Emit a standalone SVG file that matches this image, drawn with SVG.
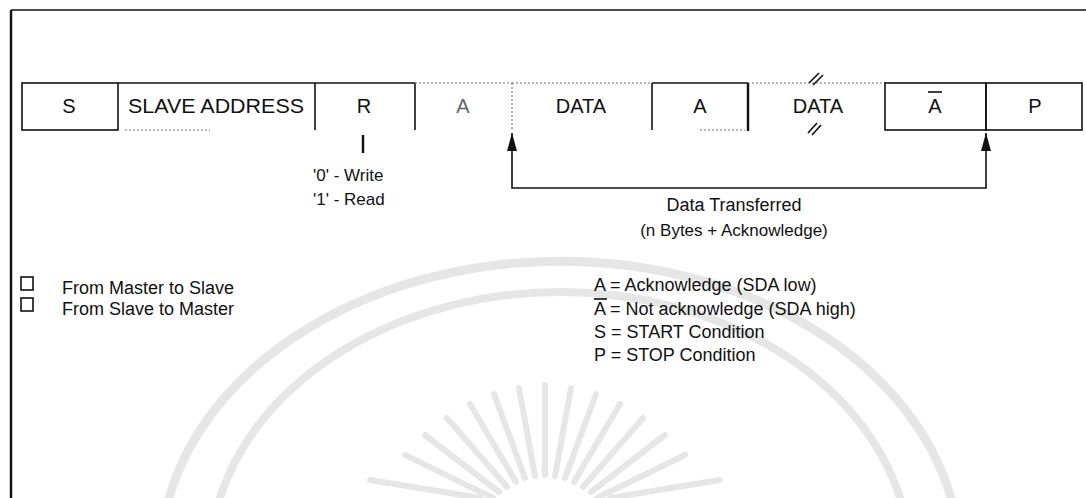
<svg xmlns="http://www.w3.org/2000/svg" width="1086" height="498" viewBox="0 0 1086 498">
  <style>
    text { font-family: "Liberation Sans", Arial, sans-serif; fill: #111; }
    .box { font-size: 20px; text-anchor: middle; }
    .lbl { font-size: 17px; }
    .leg { font-size: 18px; }
    .edge { stroke: #111; stroke-width: 1.6; fill: none; }
    .thick { stroke: #111; stroke-width: 2.4; fill: none; }
    .faint { stroke: #777; stroke-width: 1.2; stroke-dasharray: 2 2; fill: none; }
    .wm { stroke: #e6e6e6; fill: none; stroke-linecap: round; }
  </style>
  <defs>
    <marker id="arrowUp" viewBox="0 0 18 10" refX="18" refY="5" markerWidth="18" markerHeight="10" markerUnits="userSpaceOnUse" orient="auto">
      <path d="M0,0 L18,5 L0,10 Z" fill="#111"/>
    </marker>
  </defs>

  <rect width="1086" height="498" fill="#fff"/>

  <!-- faint background emblem -->
  <g id="emblem">
    <path class="wm" stroke-width="9" d="M169,498 A400,300 0 0 1 951,498"/>
    <path class="wm" stroke-width="8" d="M220,498 A350,270 0 0 1 900,498"/>
    <g stroke-width="6" class="wm">
      <line x1="545" y1="475" x2="545" y2="385"/>
      <line x1="535" y1="476" x2="519" y2="388"/>
      <line x1="555" y1="476" x2="571" y2="388"/>
      <line x1="525" y1="478" x2="494" y2="394"/>
      <line x1="565" y1="478" x2="596" y2="394"/>
      <line x1="516" y1="482" x2="470" y2="404"/>
      <line x1="574" y1="482" x2="620" y2="404"/>
      <line x1="507" y1="487" x2="447" y2="418"/>
      <line x1="583" y1="487" x2="643" y2="418"/>
      <line x1="499" y1="492" x2="425" y2="435"/>
      <line x1="591" y1="492" x2="665" y2="435"/>
      <line x1="493" y1="498" x2="405" y2="455"/>
      <line x1="597" y1="498" x2="685" y2="455"/>
      <line x1="480" y1="498" x2="370" y2="480"/>
      <line x1="610" y1="498" x2="720" y2="480"/>
    </g>
  </g>

  <!-- outer frame -->
  <g id="frame">
    <line class="thick" x1="11" y1="10" x2="11" y2="498"/>
    <line class="edge" x1="11" y1="10" x2="1086" y2="10"/>
  </g>

  <!-- transfer frame fields -->
  <g id="field-start">
    <rect class="edge" x="22" y="83" width="96" height="47"/>
    <text class="box" x="69" y="113">S</text>
  </g>
  <g id="field-address">
    <line class="edge" x1="118" y1="83" x2="315" y2="83"/>
    <line class="edge" x1="315" y1="83" x2="315" y2="130"/>
    <line class="faint" x1="125" y1="130" x2="210" y2="130"/>
    <text class="box" x="216" y="113" textLength="176" lengthAdjust="spacingAndGlyphs">SLAVE ADDRESS</text>
  </g>
  <g id="field-rw">
    <line class="edge" x1="315" y1="83" x2="415" y2="83"/>
    <line class="edge" x1="415" y1="83" x2="415" y2="130"/>
    <text class="box" x="364" y="113">R</text>
  </g>
  <g id="field-ack1">
    <line class="faint" x1="415" y1="83" x2="512" y2="83"/>
    <text class="box" x="463" y="113" style="fill:#666">A</text>
  </g>
  <g id="field-data1">
    <line class="faint" x1="512" y1="83" x2="652" y2="83"/>
    <line class="faint" x1="512" y1="83" x2="512" y2="130"/>
    <text class="box" x="581" y="113">DATA</text>
  </g>
  <g id="field-ack2">
    <line class="edge" x1="652" y1="83" x2="748" y2="83"/>
    <line class="edge" x1="652" y1="83" x2="652" y2="130"/>
    <line class="thick" x1="748" y1="83" x2="748" y2="131"/>
    <line class="faint" x1="700" y1="130" x2="745" y2="130"/>
    <text class="box" x="700" y="113">A</text>
  </g>
  <g id="field-data2">
    <line class="faint" x1="748" y1="83" x2="885" y2="83"/>
    <line class="edge" x1="809" y1="83" x2="819" y2="73"/>
    <line class="edge" x1="813" y1="85" x2="823" y2="75"/>
    <line class="edge" x1="808" y1="133" x2="817" y2="123"/>
    <line class="edge" x1="812" y1="135" x2="821" y2="125"/>
    <text class="box" x="818" y="113">DATA</text>
  </g>
  <g id="field-nack">
    <rect class="edge" x="885" y="83" width="101" height="47"/>
    <text class="box" x="935" y="113">A</text>
    <line class="edge" x1="928" y1="92" x2="942" y2="92"/>
  </g>
  <g id="field-stop">
    <rect class="edge" x="986" y="83" width="96" height="47"/>
    <text class="box" x="1035" y="113">P</text>
  </g>

  <!-- connectors -->
  <g id="connectors">
    <line class="thick" x1="363" y1="135" x2="363" y2="153"/>
    <path class="edge" d="M512,148 V188 H986 V148"/>
    <line class="edge" x1="512" y1="150" x2="512" y2="133" marker-end="url(#arrowUp)"/>
    <line class="edge" x1="986" y1="150" x2="986" y2="133" marker-end="url(#arrowUp)"/>
  </g>

  <!-- labels -->
  <g id="rw-labels">
    <text class="lbl" x="313" y="181">'0' - Write</text>
    <text class="lbl" x="313" y="205">'1' - Read</text>
  </g>
  <g id="transfer-label">
    <text class="lbl" x="734" y="211" text-anchor="middle" style="font-size:18px">Data Transferred</text>
    <text class="lbl" x="734" y="236" text-anchor="middle">(n Bytes + Acknowledge)</text>
  </g>

  <!-- direction legend -->
  <g id="legend-direction">
    <rect class="edge" x="21" y="277" width="12" height="13"/>
    <rect class="edge" x="21" y="298" width="12" height="13"/>
    <text class="leg" x="62" y="294">From Master to Slave</text>
    <text class="leg" x="62" y="315">From Slave to Master</text>
  </g>

  <!-- symbol legend -->
  <g id="legend-symbols">
    <text class="leg" x="594" y="291">A = Acknowledge (SDA low)</text>
    <text class="leg" x="594" y="315">A = Not acknowledge (SDA high)</text>
    <line class="edge" x1="594" y1="299" x2="607" y2="299"/>
    <text class="leg" x="594" y="338">S = START Condition</text>
    <text class="leg" x="594" y="361">P = STOP Condition</text>
  </g>
</svg>
